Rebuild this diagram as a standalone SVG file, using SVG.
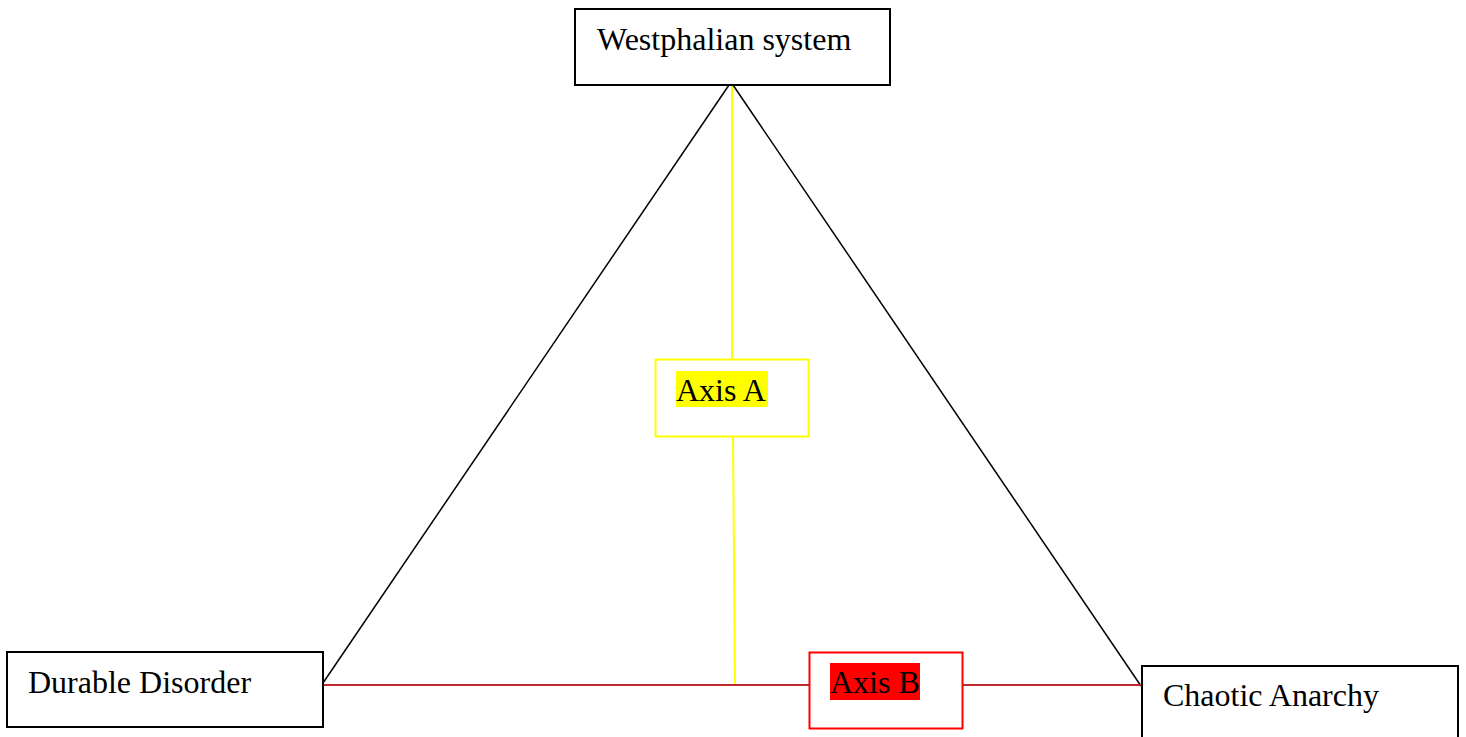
<svg xmlns="http://www.w3.org/2000/svg" width="1466" height="737" viewBox="0 0 1466 737">
<style>
.box{fill:#fff;stroke:#000;stroke-width:2}
.t{font-family:'Liberation Serif','Times New Roman','DejaVu Serif',serif;font-size:32px;fill:#000}
</style>
<rect width="1466" height="737" fill="#fff"/>
<g id="connectors" fill="none">
<line x1="729" y1="85" x2="323" y2="683" stroke="#000" stroke-width="1.5"/>
<line x1="733" y1="85" x2="1141" y2="686" stroke="#000" stroke-width="1.5"/>
<line x1="732" y1="85" x2="732" y2="359" stroke="#ffff00" stroke-width="2"/>
<line x1="733" y1="436" x2="735" y2="685" stroke="#ffff00" stroke-width="2"/>
<line x1="323" y1="685" x2="809" y2="685" stroke="#c0282d" stroke-width="2"/>
<line x1="963" y1="685" x2="1142" y2="685" stroke="#c0282d" stroke-width="2"/>
</g>
<g id="westphalian">
<rect class="box" x="575" y="9" width="315" height="76"/>
<text class="t" x="597" y="50" font-family="Liberation Serif, serif">Westphalian system</text>
</g>
<g id="axisA">
<rect x="655.5" y="359.5" width="153" height="77" fill="#fff" stroke="#ffff00" stroke-width="2"/>
<rect x="676" y="371" width="92" height="36" fill="#ffff00"/>
<text class="t" x="676" y="401" font-family="Liberation Serif, serif">Axis A</text>
</g>
<g id="axisB">
<rect x="809.5" y="652.5" width="153" height="76" fill="#fff" stroke="#ff0000" stroke-width="2"/>
<rect x="830" y="663" width="90" height="37" fill="#ff0000"/>
<text class="t" x="830" y="693" font-family="Liberation Serif, serif">Axis B</text>
</g>
<g id="durable">
<rect class="box" x="7" y="652" width="316" height="75"/>
<text class="t" x="28" y="693" font-family="Liberation Serif, serif">Durable Disorder</text>
</g>
<g id="chaotic">
<rect class="box" x="1142" y="666" width="316" height="80"/>
<text class="t" x="1163" y="706" font-family="Liberation Serif, serif">Chaotic Anarchy</text>
</g>
</svg>
